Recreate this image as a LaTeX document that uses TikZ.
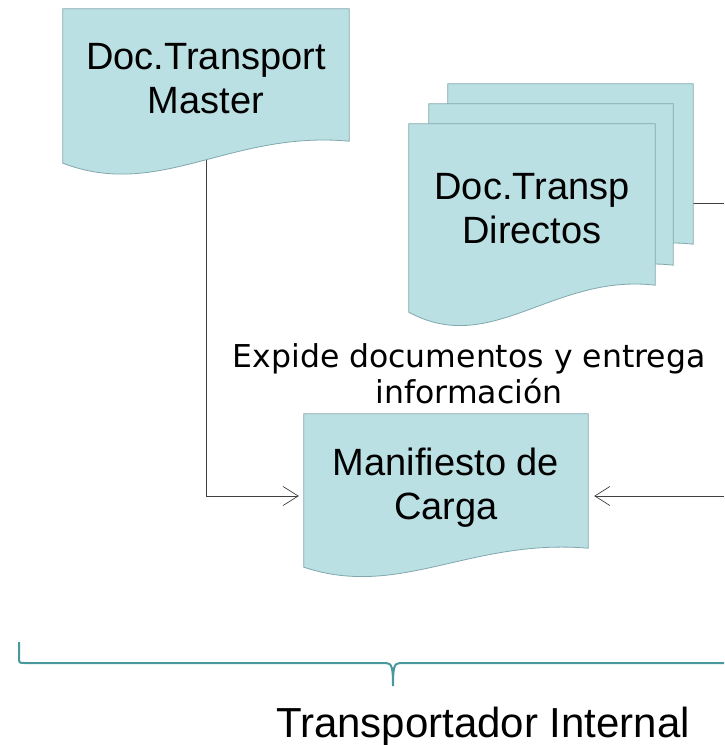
\documentclass[tikz,border=0pt]{standalone}
\usepackage{fontspec}
\setmainfont{Liberation Sans}
\newfontfamily\dejavu{DejaVu Sans}
\usetikzlibrary{arrows.meta,backgrounds}
\definecolor{fonddoc}{RGB}{186,224,227}
\definecolor{borddoc}{RGB}{128,168,174}
\definecolor{accol}{RGB}{72,152,158}
\begin{document}
\begin{tikzpicture}[x=1pt,y=-1pt]
\tikzset{docnoeud/.style={inner sep=0pt, align=center, text height=77pt, text depth=0pt, font=\fontsize{38}{44}\selectfont},
docforme/.style={fill=fonddoc, draw=borddoc, line width=0.8pt},
lien/.style={draw=black!75, line width=0.7pt},
fleche/.style={lien, -{Straight Barb[length=15pt,width=19pt]}},
accolade/.style={draw=accol, line width=2pt}}
\useasboundingbox (0,0) rectangle (724,745);
\clip (0,0) rectangle (724,745);
\node[docnoeud, minimum width=286pt, minimum height=132pt] (master) at (206,75) {Doc.Transport\\Master};
\node[docnoeud, minimum width=245pt, minimum height=160pt] (dir3) at (570.5,164) {};
\node[docnoeud, minimum width=244pt, minimum height=161pt] (dir2) at (551,184.5) {};
\node[docnoeud, minimum width=246pt, minimum height=161pt] (dir1) at (532,204.5) {Doc.Transp\\Directos};
\node[docnoeud, minimum width=284pt, minimum height=134pt] (manif) at (446,481) {Manifiesto de\\Carga};
\node[font=\dejavu\fontsize{31.5}{36}\selectfont, align=center] (expide) at (469,374) {Expide documentos y entrega\\información};
\node[anchor=base, font=\fontsize{42}{50}\selectfont] (transp) at (483,737) {Transportador Internal};
\coordinate (sortie) at (724,203);
\coordinate (entree) at (724,496);
\begin{scope}[on background layer]
\draw[fleche, shorten >=5pt] (master.south) |- (entree -| manif.west);
\draw[lien] (dir3.east |- sortie) -- (sortie);
\draw[fleche, shorten >=6pt] (entree) -- (entree -| manif.east);
\path[docforme] (master.north west) -- (master.north east) -- (master.south east) .. controls +(-119,-11) and +(97,37) .. ([yshift=-22pt]master.south west) -- cycle;
\path[docforme] (dir3.north west) -- (dir3.north east) -- (dir3.south east) .. controls +(-102,-12) and +(83,45) .. ([yshift=-27pt]dir3.south west) -- cycle;
\path[docforme] (dir2.north west) -- (dir2.north east) -- (dir2.south east) .. controls +(-102,-12) and +(83,45) .. ([yshift=-27pt]dir2.south west) -- cycle;
\path[docforme] (dir1.north west) -- (dir1.north east) -- (dir1.south east) .. controls +(-102,-12) and +(83,45) .. ([yshift=-27pt]dir1.south west) -- cycle;
\path[docforme] (manif.north west) -- (manif.north east) -- (manif.south east) .. controls +(-118,-10) and +(96,32) .. ([yshift=-19pt]manif.south west) -- cycle;
\end{scope}
\draw[accolade] (19,642) -- (19,657) .. controls (19,663) .. (25,663) -- (386,663) .. controls (392,663) and (393,668) .. (393,686) .. controls (393,668) and (394,663) .. (400,663) -- (780,663);
\end{tikzpicture}
\end{document}
